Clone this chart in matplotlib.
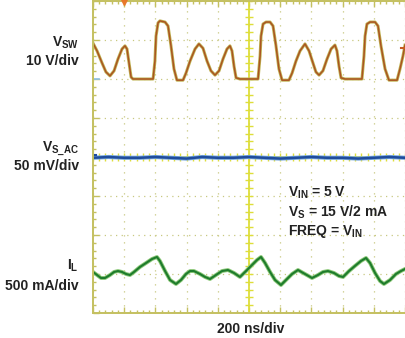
import matplotlib.pyplot as plt
from matplotlib.ticker import MultipleLocator

plt.rcParams['font.family'] = ['Liberation Sans', 'DejaVu Sans']
plt.rcParams['font.weight'] = 'bold'
plt.rcParams['mathtext.fontset'] = 'custom'
plt.rcParams['mathtext.rm'] = 'Liberation Sans:bold'
plt.rcParams['mathtext.bf'] = 'Liberation Sans:bold'
plt.rcParams['mathtext.it'] = 'Liberation Sans:bold'

# switch node voltage (ns, V)
t_vsw = [0, 26, 58, 83, 109, 135, 160, 186, 205, 218, 231, 244, 256, 385, 397, 404,
         417, 429, 462, 481, 500, 519, 538, 577, 596, 622, 654, 679, 705, 731, 756,
         782, 808, 833, 859, 878, 891, 904, 917, 942, 1058, 1071, 1077, 1090, 1109,
         1135, 1154, 1173, 1192, 1212, 1256, 1276, 1301, 1327, 1359, 1385, 1410,
         1429, 1449, 1474, 1500, 1526, 1551, 1564, 1577, 1590, 1615, 1724, 1737,
         1744, 1756, 1776, 1808, 1827, 1846, 1872, 1897, 1949, 1968, 1987, 2000]
vsw = [9.2, 7.2, 4.1, 1.8, 0.8, 2.1, 5.1, 7.7, 8.5, 7.7, 4.1, 0.5, 0.0, 0.0, 4.6, 11.0,
       14.4, 14.9, 14.6, 13.6, 8.5, 2.6, -0.3, -0.3, 1.5, 4.6, 7.7, 9.0, 7.9, 4.6, 2.1,
       1.0, 2.1, 5.1, 7.7, 8.5, 7.2, 3.3, 0.3, 0.0, 0.0, 5.9, 11.0, 14.1, 14.6,
       14.6, 13.6, 8.5, 2.6, -0.3, -0.3, 1.5, 4.6, 7.2, 9.0, 7.2, 4.1,
       1.8, 1.0, 2.1, 5.1, 7.7, 8.7, 7.2, 3.3, 0.3, 0.0, 0.0, 5.9,
       11.0, 14.1, 14.6, 14.6, 13.6, 8.5, 2.6, -0.3, -0.3, 2.6, 5.9, 8.7]

# supply ripple (ns, mV)
t_vs = [0, 100, 200, 300, 400, 500, 600, 700, 800, 900, 1000, 1100, 1200, 1300,
        1400, 1500, 1600, 1700, 1800, 1900, 2000]
vs_ac = [-1, 0, -1, -1, 0, -1, -2, 0, -1, -1, 0, -1, -2, -1, 0, -1, -1, -2, -1, 0, -1]

# inductor current (ns, mA)
t_il = [0, 26, 51, 77, 109, 135, 160, 186, 212, 237, 263, 301, 340, 378, 410, 429,
        462, 494, 532, 564, 596, 622, 647, 686, 718, 750, 788, 827, 865, 904, 942,
        981, 1019, 1051, 1077, 1103, 1135, 1167, 1205, 1237, 1276, 1314, 1359, 1404,
        1442, 1474, 1506, 1545, 1577, 1603, 1641, 1679, 1718, 1750, 1776, 1808, 1840,
        1865, 1904, 1942, 1974, 2000]
il = [26, -13, -51, -51, -13, 26, 38, 26, 0, -13, 26, 90, 141, 192, 218, 167,
      38, -77, -128, -77, 0, 38, 38, 0, -38, -64, -13, 38, 51, 13, -38,
      38, 115, 179, 218, 141, 26, -77, -141, -77, 0, 51, 0, -51,
      -13, 26, 38, 13, -26, -38, 38, 103, 167, 205, 141, 13, -90,
      -128, -77, 0, 38, 64]

# scope channel settings: units per div, position in div
VSW_DIV, VSW_POS = 10, 6.0
VS_DIV, VS_POS = 50, 4.0
IL_DIV, IL_POS = 500, 1.0

W, H = 405, 338
fig = plt.figure(figsize=(W / 100, H / 100), dpi=100)
ax = fig.add_axes([93 / W, 25 / H, 312 / W, 312 / H])
ax.set_xlim(0, 2000)
ax.set_ylim(0, 8)
ax.patch.set_alpha(0)

olive = '#c4c060'
for s in ['left', 'bottom', 'top']:
    ax.spines[s].set_color(olive)
    ax.spines[s].set_linewidth(1.4)
ax.spines['right'].set_visible(False)

ax.xaxis.set_major_locator(MultipleLocator(200))
ax.xaxis.set_minor_locator(MultipleLocator(40))
ax.yaxis.set_major_locator(MultipleLocator(1))
ax.yaxis.set_minor_locator(MultipleLocator(0.2))
ax.tick_params(which='both', direction='in', color=olive, width=1,
               top=True, bottom=True, left=True, right=False,
               labelbottom=False, labelleft=False)
ax.tick_params(which='major', length=4)
ax.tick_params(which='minor', length=2.2)

ax.xaxis.grid(True, color='#c8c880', lw=0.9, linestyle=(0, (1, 4.6)))
ax.yaxis.grid(True, color='#c8c880', lw=0.9, linestyle=(0, (1, 3.5)))

# centre graticule
yel = '#dede3a'
ax.axvline(1000, color=yel, lw=1.3)
ax.axhline(4, color=yel, lw=1.3)
for k in range(41):
    ax.plot(1000, k * 0.2, marker='_', ms=6, mew=1, color=yel)
for k in range(51):
    ax.plot(k * 40, 4, marker='|', ms=6, mew=1, color=yel)

# traces
lv = [VSW_POS + v / VSW_DIV for v in vsw]
ax.plot(t_vsw, lv, color='#c0b455', lw=2.2, solid_joinstyle='round')
ax.plot(t_vsw, lv, color='#a84a1c', lw=1.1, alpha=0.9, solid_joinstyle='round')

lv = [VS_POS + v / VS_DIV for v in vs_ac]
ax.plot(t_vs, lv, color='#78a8dc', lw=3.0)
ax.plot(t_vs, lv, color='#1f4c9c', lw=1.8)

lv = [IL_POS + v / IL_DIV for v in il]
ax.plot(t_il, lv, color='#8cc878', lw=2.8, solid_joinstyle='round')
ax.plot(t_il, lv, color='#1e7c2c', lw=1.5, solid_joinstyle='round')

# markers
ax.plot(200, 8, marker='v', ms=5.5, color='#e8782a', clip_on=False, zorder=5)
ax.plot([1972, 2000], [6.8, 6.8], color='#c85a20', lw=1.5, clip_on=False)
ax.plot([0, 38], [6.0, 6.0], color='#8cc0e8', lw=1.2)
ax.plot([0, 20], [4.05, 4.05], color='#1f4c9c', lw=1.5)


def ftxt(x, y, s, ha='left'):
    fig.text(x / W, 1 - y / H, s, ha=ha, va='baseline', fontsize=10,
             fontweight='bold', color='#222222')


ftxt(79, 47, r'$\mathrm{V_{SW}}$', 'right')
ftxt(79, 65, '10 V/div', 'right')
ftxt(79, 151, r'$\mathrm{V_{S\_AC}}$', 'right')
ftxt(79, 170, '50 mV/div', 'right')
ftxt(79, 270, r'$\mathrm{I_{L}}$', 'right')
ftxt(79, 290, '500 mA/div', 'right')
ftxt(288, 197, r'$\mathrm{V_{IN}}$ = 5 V')
ftxt(288, 217, r'$\mathrm{V_{S}}$ = 15 V/2 mA')
ftxt(288, 235, r'FREQ = $\mathrm{V_{IN}}$')
ftxt(251, 333, '200 ns/div', 'center')

fig.savefig('out.png', dpi=100)
